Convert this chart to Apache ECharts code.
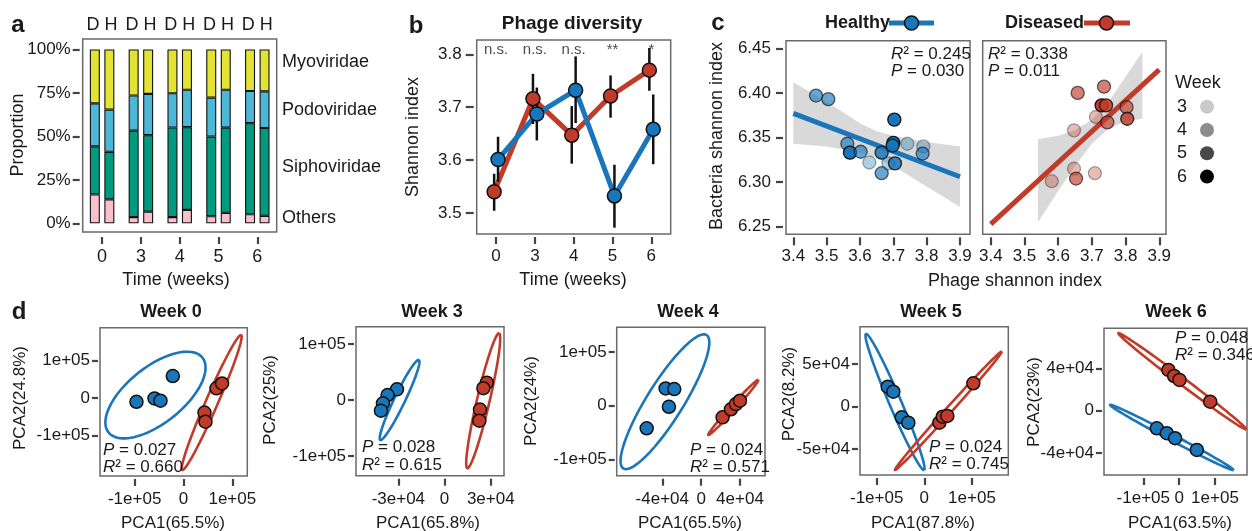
<!DOCTYPE html>
<html>
<head>
<meta charset="utf-8">
<script src="https://cdn.jsdelivr.net/npm/echarts@6/dist/echarts.min.js"></script>
<style>
  html, body { margin: 0; padding: 0; background: #fff; }
  #chart { width: 1252px; height: 531px; }
</style>
</head>
<body>
<div id="chart"></div>
<script>
const weeks = ['0', '3', '4', '5', '6'];

// a: phage family proportions (%), D = diseased, H = healthy
const familyNames = ['Others', 'Siphoviridae', 'Podoviridae', 'Myoviridae'];
const othersD = [16.6, 3.6, 3.6, 4.1, 5.2];
const siphoD = [27.7, 49.7, 51.5, 45.8, 52.4];
const podoD = [24.7, 20.2, 19.7, 22.4, 18.5];
const myoD = [31.0, 26.5, 25.2, 27.7, 23.9];
const othersH = [13.8, 6.7, 7.7, 6.0, 4.3];
const siphoH = [27.3, 44.0, 47.6, 49.0, 50.5];
const podoH = [24.3, 23.7, 21.5, 21.8, 21.1];
const myoH = [34.6, 25.6, 23.2, 23.2, 24.1];

// b: phage shannon index, mean and error bar ends
const diseasedMean = [3.540, 3.716, 3.647, 3.721, 3.770];
const diseasedLo = [3.504, 3.668, 3.593, 3.680, 3.731];
const diseasedHi = [3.574, 3.763, 3.702, 3.760, 3.812];
const healthyMean = [3.601, 3.687, 3.732, 3.532, 3.658];
const healthyLo = [3.559, 3.637, 3.670, 3.472, 3.592];
const healthyHi = [3.644, 3.737, 3.796, 3.591, 3.724];
const sigLabels = ['n.s.', 'n.s.', 'n.s.', '**', '*'];

// c: phage vs bacteria shannon index
const healthyPhage = [3.468, 3.505, 3.562, 3.570, 3.602, 3.628, 3.665, 3.665, 3.685, 3.700, 3.703, 3.705, 3.742, 3.790, 3.788, 3.698];
const healthyBact = [6.397, 6.393, 6.343, 6.333, 6.334, 6.322, 6.333, 6.310, 6.321, 6.344, 6.370, 6.321, 6.343, 6.340, 6.332, 6.341];
const healthyWeek = [4, 4, 4, 6, 4, 3, 5, 4, 3, 6, 6, 5, 3, 3, 4, 5];
const diseasedPhage = [3.658, 3.736, 3.729, 3.742, 3.712, 3.746, 3.803, 3.805, 3.647, 3.647, 3.653, 3.709, 3.581];
const diseasedBact = [6.400, 6.407, 6.386, 6.386, 6.373, 6.367, 6.384, 6.371, 6.358, 6.315, 6.304, 6.310, 6.301];
const diseasedWeek = [4, 4, 6, 5, 3, 4, 4, 5, 3, 3, 4, 3, 3];
const healthyFit = [[3.4, 6.377], [3.9, 6.306]];
const diseasedFit = [[3.4, 6.253], [3.9, 6.426]];
const healthyBandX = [3.4, 3.5, 3.6, 3.65, 3.7, 3.8, 3.9];
const healthyBandLo = [6.343, 6.340, 6.333, 6.327, 6.318, 6.295, 6.272];
const healthyBandHi = [6.412, 6.390, 6.366, 6.357, 6.352, 6.345, 6.340];
const diseasedBandX = [3.54, 3.6, 3.65, 3.7, 3.75, 3.8, 3.85];
const diseasedBandLo = [6.255, 6.290, 6.318, 6.343, 6.360, 6.368, 6.371];
const diseasedBandHi = [6.348, 6.352, 6.358, 6.370, 6.390, 6.418, 6.446];
const fitStats = [['0.245', '0.030'], ['0.338', '0.011']];

// d: PCA scores per week, ellipse = [cx, cy, axis1x, axis1y, axis2x, axis2y]
const w0Healthy = [[-0.963e5, -0.10e5], [-0.594e5, -0.01e5], [-0.471e5, -0.07e5], [-0.219e5, 0.59e5]];
const w0Diseased = [[0.43e5, -0.39e5], [0.45e5, -0.635e5], [0.676e5, 0.26e5], [0.79e5, 0.39e5]];
const w0HealthyEll = [-0.574e5, 0.08e5, 0.961e5, 1.003e5, 0.359e5, -0.587e5];
const w0DiseasedEll = [0.578e5, -0.12e5, 0.604e5, 1.81e5, 0.113e5, -0.065e5];
const w3Healthy = [[-3.09e4, 1.9e4], [-3.70e4, 0.89e4], [-4.0e4, -0.6e4], [-4.13e4, -1.9e4]];
const w3Diseased = [[2.74e4, 3.1e4], [2.52e4, 2.1e4], [2.30e4, -1.7e4], [2.26e4, -3.7e4]];
const w3HealthyEll = [-2.92e4, 0, 1.25e4, 7.14e4, 0.316e4, -0.42e4];
const w3DiseasedEll = [2.51e4, -0.14e4, 1.03e4, 12.05e4, 0.40e4, -0.26e4];
const w4Healthy = [[-5.61e4, -4.2e4], [-3.66e4, 3.2e4], [-2.77e4, 3.1e4], [-3.32e4, -0.2e4]];
const w4Diseased = [[2.21e4, -2.16e4], [3.07e4, -0.67e4], [3.58e4, 0.3e4], [4.0e4, 0.93e4]];
const w4HealthyEll = [-3.73e4, 0.74e4, 4.29e4, 12.4e4, 1.59e4, -1.79e4];
const w4DiseasedEll = [3.31e4, -0.33e4, 2.57e4, 5.11e4, 0.19e4, -0.31e4];
const w5Healthy = [[-0.768e5, 2.35e4], [-0.651e5, 1.76e4], [-0.474e5, -1.25e4], [-0.336e5, -1.88e4]];
const w5Diseased = [[0.315e5, -1.88e4], [0.386e5, -1.18e4], [0.483e5, -1.09e4], [1.028e5, 2.75e4]];
const w5HealthyEll = [-0.615e5, 0.55e4, 0.609e5, -8.0e4, 0.115e5, 0.276e4];
const w5DiseasedEll = [0.504e5, -0.48e4, 1.119e5, 6.96e4, 0.047e5, -0.235e4];
const w6Healthy = [[-0.623e5, -1.66e4], [-0.344e5, -2.13e4], [-0.112e5, -2.6e4], [0.494e5, -3.7e4]];
const w6Diseased = [[-0.30e5, 3.84e4], [-0.14e5, 3.27e4], [0.01e5, 2.9e4], [0.866e5, 0.85e4]];
const w6HealthyEll = [-0.204e5, -2.53e4, 1.72e5, -3.07e4, 0.039e5, 0.25e4];
const w6DiseasedEll = [0.088e5, 2.77e4, 1.78e5, -4.53e4, 0.059e5, 0.264e4];
const pcaTitles = ['Week 0', 'Week 3', 'Week 4', 'Week 5', 'Week 6'];
const pca1Names = ['PCA1(65.5%)', 'PCA1(65.8%)', 'PCA1(65.5%)', 'PCA1(87.8%)', 'PCA1(63.5%)'];
const pca2Names = ['PCA2(24.8%)', 'PCA2(25%)', 'PCA2(24%)', 'PCA2(8.2%)', 'PCA2(23%)'];
const pcaP = ['0.027', '0.028', '0.024', '0.024', '0.048'];
const pcaR2 = ['0.660', '0.615', '0.571', '0.745', '0.346'];
const pcaXTicks = [[-1e5, 0, 1e5], [-3e4, 0, 3e4], [-4e4, 0, 4e4], [-1e5, 0, 1e5], [-1e5, 0, 1e5]];
const pcaYTicks = [[-1e5, 0, 1e5], [-1e5, 0, 1e5], [-1e5, 0, 1e5], [-5e4, 0, 5e4], [-4e4, 0, 4e4]];

// ---- style / layout ----
const FF = '"Liberation Sans", Arial, sans-serif';
const BLUE = '#1a76bb', RED = '#c13b2a', INK = '#1a1a1a';
const familyColors = ['#f9bfcb', '#009b7e', '#4db7d7', '#e3e334'];
const weekAlpha = {3: 0.35, 4: 0.65, 5: 0.85, 6: 1};
const weekGray = {3: '#c9c9c9', 4: '#8c8c8c', 5: '#484848', 6: '#000'};
const DODGE = 0.05;

const grids = [
  {left: 82.7, top: 39, width: 194, height: 193},
  {left: 476.7, top: 40, width: 194, height: 194},
  {left: 786, top: 40.7, width: 184, height: 193.6},
  {left: 982.7, top: 40.7, width: 183.3, height: 193.6},
  {left: 100, top: 327.7, width: 147.3, height: 148.3},
  {left: 356, top: 326.7, width: 148, height: 149},
  {left: 616.7, top: 327.3, width: 148.3, height: 148.4},
  {left: 860, top: 326.7, width: 148.3, height: 148.3},
  {left: 1104, top: 328.3, width: 143, height: 146.7}
];
const pcaXRange = [[-1.71e5, 1.307e5], [-5.75e4, 3.86e4], [-8.7e4, 6.58e4], [-1.35e5, 1.762e5], [-2.096e5, 1.893e5]];
const pcaYRange = [[-2.09e5, 1.885e5], [-1.352e5, 1.309e5], [-1.301e5, 1.457e5], [-8.04e4, 9.41e4], [-6.07e4, 7.77e4]];

function font(size, weight) { return (weight || 'normal') + ' ' + size + 'px ' + FF; }
function sci(v) {
  if (v === 0) return '0';
  const e = Math.floor(Math.log10(Math.abs(v)) + 1e-9);
  const m = Math.round(v / Math.pow(10, e));
  return m + 'e+' + String(e).padStart(2, '0');
}

function valAxis(gridIndex, o) {
  return {
    gridIndex: gridIndex, type: 'value', min: o.min, max: o.max, position: o.position,
    offset: o.offset || 0,
    axisLine: {show: false, onZero: false},
    axisTick: {show: o.show !== false, length: o.tickLen || 7, customValues: o.values,
      lineStyle: {color: '#444', width: 2.2}},
    axisLabel: {show: o.show !== false, customValues: o.values, margin: o.margin || 10,
      fontSize: 17, fontFamily: FF, color: INK, formatter: o.formatter},
    splitLine: {show: false}
  };
}

function txt(text, x, y, o) {
  o = o || {};
  return {
    type: 'text', x: x, y: y, rotation: o.rotation || 0, z: 100,
    style: {
      text: text, font: font(o.size || 18, o.weight), fill: INK,
      align: o.align || 'center', verticalAlign: 'middle',
      textAlign: o.align || 'center', textVerticalAlign: 'middle',
      rich: o.rich
    }
  };
}
const italicRich = {i: {fontStyle: 'italic', fontSize: 17, fontFamily: FF, fill: INK}};

// ---- axes ----
const xAxis = [
  {gridIndex: 0, type: 'category', data: weeks, position: 'bottom', offset: 5,
    axisLine: {show: false, onZero: false},
    axisTick: {show: true, alignWithLabel: true, interval: 0, length: 7, lineStyle: {color: '#444', width: 2.2}},
    axisLabel: {interval: 0, margin: 11, fontSize: 18, fontFamily: FF, color: INK}},
  {gridIndex: 0, type: 'category', data: weeks, position: 'top',
    axisLine: {show: false, onZero: false}, axisTick: {show: false},
    axisLabel: {interval: 0, hideOverlap: false, margin: 5, fontSize: 18, fontFamily: FF, color: INK,
      formatter: function () { return 'D H'; }}},
  valAxis(1, {min: -0.5, max: 4.5, values: [0, 1, 2, 3, 4], offset: 3, tickLen: 7, margin: 11,
    formatter: function (v) { return weeks[v]; }}),
  valAxis(2, {min: 3.378, max: 3.93, values: [3.4, 3.5, 3.6, 3.7, 3.8, 3.9], offset: 3, tickLen: 8, margin: 11,
    formatter: function (v) { return v.toFixed(1); }}),
  valAxis(3, {min: 3.376, max: 3.92, values: [3.4, 3.5, 3.6, 3.7, 3.8, 3.9], offset: 3, tickLen: 8, margin: 11,
    formatter: function (v) { return v.toFixed(1); }})
];
const yAxis = [
  valAxis(0, {min: -5, max: 106, values: [0, 25, 50, 75, 100], offset: 3, tickLen: 7, margin: 9,
    formatter: function (v) { return v + '%'; }}),
  valAxis(1, {min: 3.46, max: 3.827, values: [3.5, 3.6, 3.7, 3.8], offset: 3, tickLen: 8, margin: 12,
    formatter: function (v) { return v.toFixed(1); }}),
  valAxis(2, {min: 6.2415, max: 6.4585, values: [6.25, 6.30, 6.35, 6.40, 6.45], offset: 3, tickLen: 7, margin: 12,
    formatter: function (v) { return v.toFixed(2); }}),
  valAxis(3, {min: 6.2415, max: 6.4585, values: [6.25], show: false})
];
for (let k = 0; k < 5; k++) {
  xAxis.push(valAxis(4 + k, {min: pcaXRange[k][0], max: pcaXRange[k][1], values: pcaXTicks[k],
    offset: 3, tickLen: 7, margin: 12, formatter: sci}));
  yAxis.push(valAxis(4 + k, {min: pcaYRange[k][0], max: pcaYRange[k][1], values: pcaYTicks[k],
    offset: 2, tickLen: 6, margin: 8, formatter: sci}));
}

// ---- series ----
const series = [];

// a: stacked bars
const famD = [othersD, siphoD, podoD, myoD];
const famH = [othersH, siphoH, podoH, myoH];
[['D', famD], ['H', famH]].forEach(function (grp) {
  familyNames.forEach(function (name, k) {
    series.push({
      type: 'bar', name: name + ' ' + grp[0], xAxisIndex: 0, yAxisIndex: 0, stack: grp[0],
      data: grp[1][k], barWidth: 10, barGap: '45%',
      itemStyle: {color: familyColors[k], borderColor: '#111', borderWidth: 1.1}
    });
  });
});

// b: lines, error bars, points
function dodged(arr, dx) { return arr.map(function (v, i) { return [i + dx, v]; }); }
function errorBars(lo, hi, dx) {
  return {
    type: 'custom', xAxisIndex: 2, yAxisIndex: 1, z: 3, clip: false,
    encode: {x: 0, y: [1, 2]},
    data: lo.map(function (v, i) { return [i + dx, v, hi[i]]; }),
    renderItem: function (params, api) {
      const a = api.coord([api.value(0), api.value(1)]);
      const b = api.coord([api.value(0), api.value(2)]);
      return {type: 'line', shape: {x1: a[0], y1: a[1], x2: b[0], y2: b[1]},
        style: {stroke: '#111', lineWidth: 2.5}};
    }
  };
}
series.push(
  {type: 'line', xAxisIndex: 2, yAxisIndex: 1, z: 2, symbol: 'none', data: dodged(diseasedMean, -DODGE),
    lineStyle: {color: RED, width: 5}},
  {type: 'line', xAxisIndex: 2, yAxisIndex: 1, z: 2, symbol: 'none', data: dodged(healthyMean, DODGE),
    lineStyle: {color: BLUE, width: 5}},
  errorBars(diseasedLo, diseasedHi, -DODGE),
  errorBars(healthyLo, healthyHi, DODGE),
  {type: 'scatter', xAxisIndex: 2, yAxisIndex: 1, z: 4, symbolSize: 14, data: dodged(diseasedMean, -DODGE),
    itemStyle: {color: RED, borderColor: '#111', borderWidth: 1.5, opacity: 1}},
  {type: 'scatter', xAxisIndex: 2, yAxisIndex: 1, z: 5, symbolSize: 14, data: dodged(healthyMean, DODGE),
    itemStyle: {color: BLUE, borderColor: '#111', borderWidth: 1.5, opacity: 1}},
  {type: 'scatter', xAxisIndex: 2, yAxisIndex: 1, z: 6, symbolSize: 1,
    data: sigLabels.map(function (s, i) { return [i, 3.808]; }),
    itemStyle: {color: 'transparent'},
    label: {show: true, position: 'inside', fontSize: 15, fontFamily: FF, color: INK,
      formatter: function (p) { return sigLabels[p.dataIndex]; }}}
);

// c: bands, fits, points
function band(ax, xs, lo, hi) {
  return {
    type: 'custom', xAxisIndex: ax, yAxisIndex: ax - 1, z: 1, clip: true,
    encode: {x: 0, y: [1, 2]},
    data: xs.map(function (x, i) { return [x, lo[i], hi[i]]; }),
    renderItem: function (params, api) {
      if (params.dataIndex !== 0) return;
      const top = xs.map(function (x, i) { return api.coord([x, hi[i]]); });
      const bot = xs.map(function (x, i) { return api.coord([x, lo[i]]); }).reverse();
      return {type: 'polygon', shape: {points: top.concat(bot)}, style: {fill: '#d2d2d2', opacity: 0.85}};
    }
  };
}
function weekPoints(ax, xs, ys, wk, color) {
  return {
    type: 'scatter', xAxisIndex: ax, yAxisIndex: ax - 1, z: 4, symbolSize: 13,
    data: xs.map(function (x, i) {
      return {value: [x, ys[i]], itemStyle: {opacity: weekAlpha[wk[i]]}};
    }),
    itemStyle: {color: color, borderColor: '#111', borderWidth: 1.3}
  };
}
series.push(
  band(3, healthyBandX, healthyBandLo, healthyBandHi),
  band(4, diseasedBandX, diseasedBandLo, diseasedBandHi),
  {type: 'line', xAxisIndex: 3, yAxisIndex: 2, z: 2, symbol: 'none', data: healthyFit,
    lineStyle: {color: BLUE, width: 5}},
  {type: 'line', xAxisIndex: 4, yAxisIndex: 3, z: 2, symbol: 'none', data: diseasedFit,
    lineStyle: {color: RED, width: 5}},
  weekPoints(3, healthyPhage, healthyBact, healthyWeek, BLUE),
  weekPoints(4, diseasedPhage, diseasedBact, diseasedWeek, RED)
);

// d: PCA ellipses and points
const pcaPanels = [
  [w0Healthy, w0Diseased, w0HealthyEll, w0DiseasedEll],
  [w3Healthy, w3Diseased, w3HealthyEll, w3DiseasedEll],
  [w4Healthy, w4Diseased, w4HealthyEll, w4DiseasedEll],
  [w5Healthy, w5Diseased, w5HealthyEll, w5DiseasedEll],
  [w6Healthy, w6Diseased, w6HealthyEll, w6DiseasedEll]
];
function ellipse(ax, ay, params, color) {
  return {
    type: 'custom', xAxisIndex: ax, yAxisIndex: ay, z: 2, clip: false,
    encode: {x: 0, y: 1},
    data: [params],
    renderItem: function (p, api) {
      const v = [0, 1, 2, 3, 4, 5].map(function (d) { return api.value(d); });
      const pts = [];
      for (let k = 0; k <= 90; k++) {
        const t = 2 * Math.PI * k / 90;
        pts.push(api.coord([v[0] + v[2] * Math.cos(t) + v[4] * Math.sin(t),
                            v[1] + v[3] * Math.cos(t) + v[5] * Math.sin(t)]));
      }
      return {type: 'polyline', shape: {points: pts}, style: {stroke: color, lineWidth: 2.6, fill: null}};
    }
  };
}
pcaPanels.forEach(function (pn, k) {
  const ax = 5 + k, ay = 4 + k;
  series.push(ellipse(ax, ay, pn[2], BLUE), ellipse(ax, ay, pn[3], RED),
    {type: 'scatter', xAxisIndex: ax, yAxisIndex: ay, z: 4, symbolSize: 13, data: pn[0],
      itemStyle: {color: BLUE, borderColor: '#111', borderWidth: 1.5, opacity: 1}},
    {type: 'scatter', xAxisIndex: ax, yAxisIndex: ay, z: 4, symbolSize: 13, data: pn[1],
      itemStyle: {color: RED, borderColor: '#111', borderWidth: 1.5, opacity: 1}});
});

// ---- texts ----
const graphic = [
  txt('a', 18, 25, {size: 24, weight: 'bold'}),
  txt('b', 416, 26, {size: 24, weight: 'bold'}),
  txt('c', 718, 23, {size: 24, weight: 'bold'}),
  txt('d', 19, 312, {size: 24, weight: 'bold'}),
  txt('Proportion', 18, 135, {rotation: Math.PI / 2}),
  txt('Time (weeks)', 176, 280),
  txt('Myoviridae', 282, 62, {align: 'left'}),
  txt('Podoviridae', 282, 110, {align: 'left'}),
  txt('Siphoviridae', 282, 167, {align: 'left'}),
  txt('Others', 282, 218, {align: 'left'}),
  txt('Phage diversity', 572, 24, {size: 19, weight: 'bold'}),
  txt('Shannon index', 413, 137, {rotation: Math.PI / 2}),
  txt('Time (weeks)', 573, 280),
  txt('Healthy', 825, 23, {weight: 'bold', align: 'left'}),
  txt('Diseased', 1005, 23, {weight: 'bold', align: 'left'}),
  txt('Bacteria shannon index', 717, 136, {rotation: Math.PI / 2}),
  txt('Phage shannon index', 1015, 281),
  txt('{i|R}² = ' + fitStats[0][0], 891, 54, {align: 'left', size: 17, rich: italicRich}),
  txt('{i|P} = ' + fitStats[0][1], 891, 71, {align: 'left', size: 17, rich: italicRich}),
  txt('{i|R}² = ' + fitStats[1][0], 988, 54, {align: 'left', size: 17, rich: italicRich}),
  txt('{i|P} = ' + fitStats[1][1], 988, 71, {align: 'left', size: 17, rich: italicRich}),
  txt('Week', 1175, 83, {align: 'left'}),
  {type: 'line', shape: {x1: 889, y1: 23, x2: 934, y2: 23}, style: {stroke: BLUE, lineWidth: 5}},
  {type: 'circle', shape: {cx: 911.5, cy: 23, r: 7}, style: {fill: BLUE, stroke: '#111', lineWidth: 1.5}},
  {type: 'line', shape: {x1: 1084, y1: 23, x2: 1130, y2: 23}, style: {stroke: RED, lineWidth: 5}},
  {type: 'circle', shape: {cx: 1106.5, cy: 23, r: 7}, style: {fill: RED, stroke: '#111', lineWidth: 1.5}}
];
[3, 4, 5, 6].forEach(function (w, i) {
  const y = 106.7 + i * 23.3;
  graphic.push(txt(String(w), 1177, y, {align: 'left'}));
  graphic.push({type: 'circle', shape: {cx: 1207, cy: y, r: 7}, style: {fill: weekGray[w]}});
});
const pcaTitleX = [171, 432, 688, 931, 1176];
const pcaXNameX = [173, 428, 690, 923, 1180];
const pcaYNameX = [20, 270, 531, 789, 1034];
const pcaYNameY = [398, 400, 401, 394, 402];
const pcaStatPos = [[103, 450, 467], [362, 447, 465], [690, 450, 467], [929, 447, 464], [1175, 338, 355]];
for (let k = 0; k < 5; k++) {
  graphic.push(
    txt(pcaTitles[k], pcaTitleX[k], 312, {weight: 'bold'}),
    txt(pca1Names[k], pcaXNameX[k], 523, {size: 17}),
    txt(pca2Names[k], pcaYNameX[k], pcaYNameY[k], {size: 17, rotation: Math.PI / 2}),
    txt('{i|P} = ' + pcaP[k], pcaStatPos[k][0], pcaStatPos[k][1], {align: 'left', size: 17, rich: italicRich}),
    txt('{i|R}² = ' + pcaR2[k], pcaStatPos[k][0], pcaStatPos[k][2], {align: 'left', size: 17, rich: italicRich})
  );
}

const chart = echarts.init(document.getElementById('chart'), null, {renderer: 'canvas'});
chart.setOption({
  animation: false,
  backgroundColor: '#fff',
  grid: grids.map(function (g) {
    return Object.assign({show: true, borderColor: '#6a6a6a', borderWidth: 1.5,
      backgroundColor: '#fff', containLabel: false, outerBoundsMode: 'none'}, g);
  }),
  xAxis: xAxis,
  yAxis: yAxis,
  series: series,
  graphic: graphic
});
</script>
</body>
</html>
